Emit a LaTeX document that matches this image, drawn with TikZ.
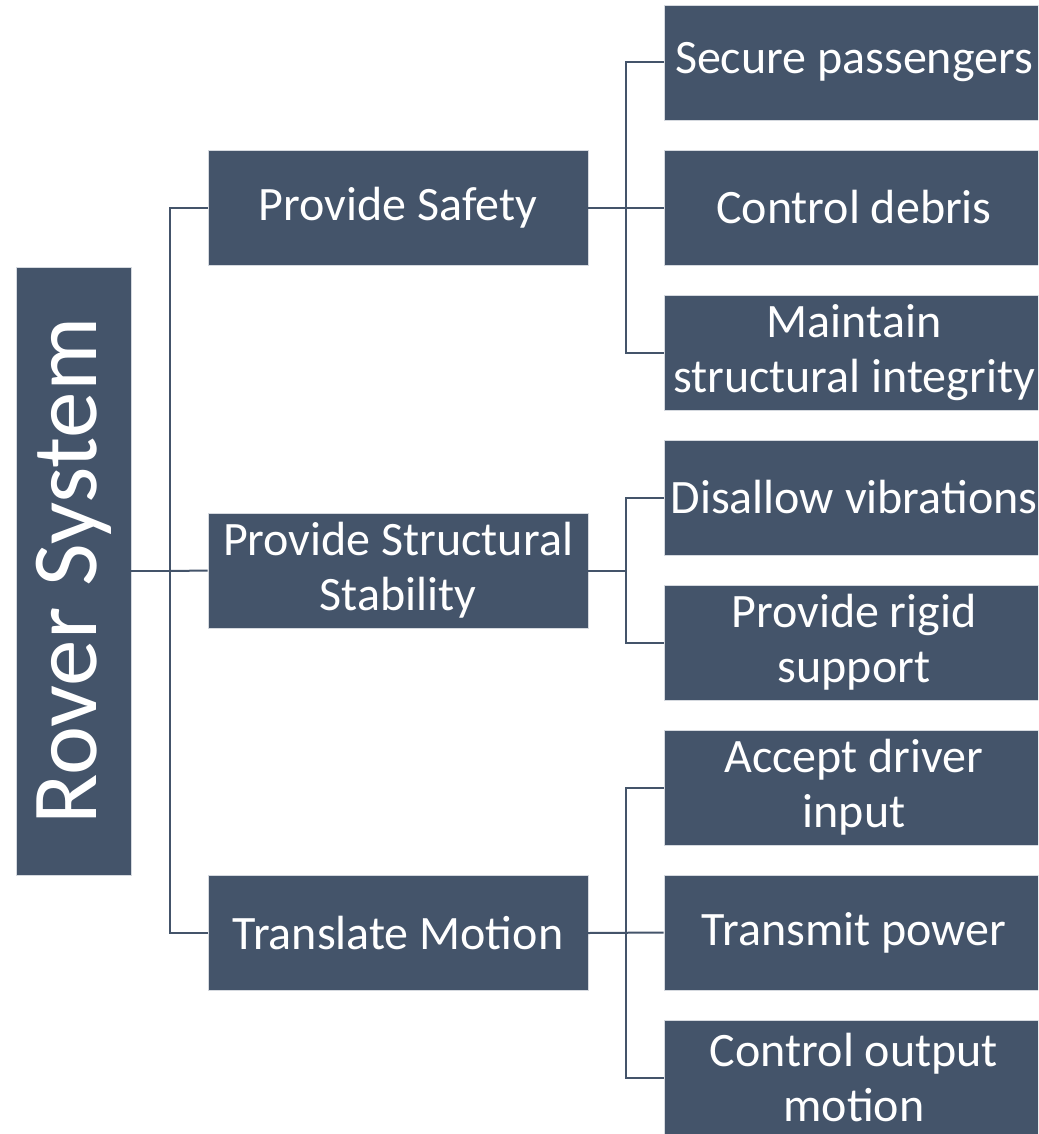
\documentclass[tikz,border=0pt]{standalone}
\usepackage{fontspec}
\setmainfont{Carlito}
\usetikzlibrary{positioning}
\definecolor{slate}{HTML}{44546A}
\definecolor{rim}{HTML}{D5D9DF}

\begin{document}
\begin{tikzpicture}[x=1pt,y=-1pt,
    box/.style={fill=slate,draw=rim,line width=0.8pt,text=white,align=center,
      minimum width=380pt,minimum height=115pt,inner sep=0pt,
      font=\fontsize{48}{55}\selectfont},
    wire/.style={draw=slate,line width=2pt}]
        \clip (0,0) rectangle (1038,1134);
        \fill[white] (0,0) rectangle (1038,1134);

          \node[box,rotate=90,minimum width=608pt,font=\fontsize{93}{100}\selectfont] (rover) at (73.5,571) {Rover System};

          \node[box] (safety) at (398,207.5) {Provide Safety};
          \node[box] (stability) at (398,570.5) {Provide Structural\\Stability};
          \node[box] (motion) at (398,933) {Translate Motion};

          \foreach \name/\txt [count=\i from 0] in {secure/Secure passengers,debris/Control debris,
              integrity/Maintain\\structural integrity,vibrations/Disallow vibrations,
              rigid/Provide rigid\\support,driver/Accept driver\\input,power/Transmit power,
              output/Control output\\motion}{
            \node[box] (\name) at (854,62.5+145*\i) {\txt};
          }

          \draw[wire] (rover.south) -- ++(39,0) coordinate (trunk);
          \draw[wire] (safety.west) -| (trunk) |- (motion.west);
          \draw[wire] (trunk) -- (stability.west);

          \foreach \mid/\up/\down in {safety/secure/integrity,stability/vibrations/rigid,motion/driver/output}{
            \draw[wire] (\mid.east) -- ++(38,0) coordinate (fork);
            \draw[wire] (\up.west) -| (fork) |- (\down.west);
          }
          \draw[wire] (safety.east) -- (debris.west);
          \draw[wire] (motion.east) -- (power.west);
        \end{tikzpicture}
\end{document}
